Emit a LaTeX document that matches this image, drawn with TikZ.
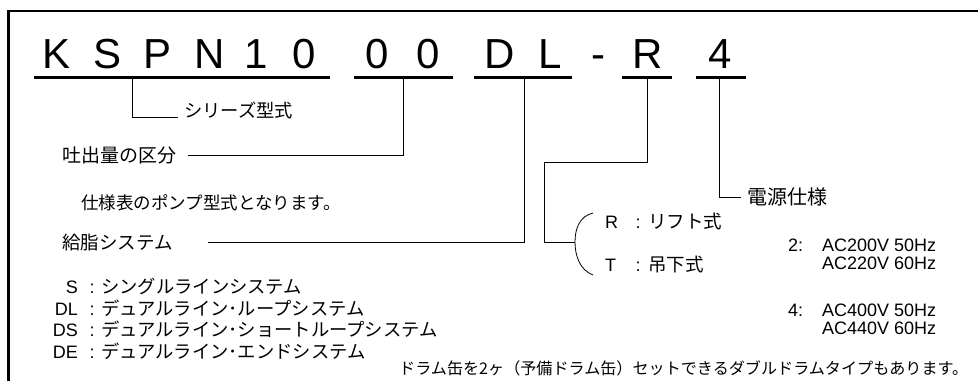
\documentclass[tikz,border=0pt]{standalone}
\usepackage{fontspec}
\setmainfont{Liberation Sans}
\newfontfamily\jp{Noto Sans CJK JP}
\newcommand\jfont[1]{\jp\fontsize{#1}{#1}\selectfont}
\newcommand\lfont[1]{\fontsize{#1}{#1}\selectfont}

\tikzset{
    frame/.style={line width=2.6pt},
    code/.style={font=\lfont{42}, anchor=base, inner sep=0pt},
    uline/.style={line width=3pt},
    lead/.style={line width=0.8pt},
    jlabel/.style={font=\jfont{18.5}, anchor=west, inner xsep=6pt, inner ysep=2pt},
    latin/.style={font=\lfont{18}, inner sep=1pt},
}

\begin{document}
\begin{tikzpicture}[x=1pt, y=-1pt]
    \useasboundingbox (0,0) rectangle (978,381);

    % FRAME (runs off the right and bottom)
    \draw[frame] (8.5,381) -- (8.5,11) -- (978,11);

    % MODEL CODE
    \foreach \ch/\xx [count=\i] in {K/57, S/108, P/158, N/210, 1/256, 0/304,
                                   0/377, 0/428, D/500, L/550, -/598, R/648, 4/720}
        \node[code] (c\i) at (\xx,68) {\ch};

    % Underlines
    \foreach \a/\b in {34/330, 354/453, 474/572, 622/672, 696/746}
        \draw[uline] (\a,77.5) -- (\b,77.5);

    % Tap points under the underlines
    \coordinate (tSer) at (132,79);
    \coordinate (tFlow) at (403,79);
    \coordinate (tSys) at (524,79);
    \coordinate (tMnt) at (647,79);
    \coordinate (tPwr) at (719,79);

    % LABELS
    \node[jlabel, font=\jfont{18.3}, anchor=base west] (lSer) at (178,117) {シリーズ型式};
    \node[jlabel, font=\jfont{19}] (lFlow) at (56,155) {吐出量の区分};
    \node[jlabel, font=\jfont{17.5}] (lNote) at (75,203) {仕様表のポンプ型式となります。};
    \node[jlabel] (lSys) at (56,242) {給脂システム};
    \node[jlabel, font=\jfont{20}] (lPwr) at (741,197) {電源仕様};

    % LEADERS
    \draw[lead] (tSer) |- (lSer.base west);
    \draw[lead] ([xshift=6pt]lFlow.east) -| (tFlow);
    \draw[lead] ([xshift=29pt]lSys.east) -| (tSys);
    \draw[lead] (tPwr) |- (lPwr.west);

    % MOUNTING TYPE
    \coordinate (bend) at (544,162);
    \coordinate (brace) at (575,242);
    \draw[lead] (tMnt) |- (bend) |- (brace);
    \draw[lead] (593,213) .. controls (580,216) and (575,228) .. (brace)
                .. controls (575,256) and (580,270) .. (593,275);
    \foreach \k/\t/\yy [count=\i] in {R/リフト式/228.5, T/吊下式/271.5} {
        \node[latin, anchor=base west] (mk\i) at (604,\yy) {\k};
        \node[latin, anchor=base] (mc\i) at (638,\yy) {:};
        \node[jlabel, anchor=base west] (mt\i) at (642,\yy) {\t};
    }

    % POWER SUPPLY
    \foreach \v/\la/\lb/\yy [count=\i] in {2/AC200V 50Hz/AC220V 60Hz/251.5,
                                          4/AC400V 50Hz/AC440V 60Hz/316.5} {
        \node[latin, anchor=base west] (pv\i) at (787,\yy) {\v:};
        \node[latin, anchor=base west] (pa\i) at (821,\yy) {\la};
        \node[latin, anchor=base west] (pb\i) at (821,\yy+18) {\lb};
    }

    % GREASE SYSTEM LIST
    \foreach \k/\t [count=\i] in {S/シングルラインシステム,
                                  DL/デュアルライン･ループシステム,
                                  DS/デュアルライン･ショートループシステム,
                                  DE/デュアルライン･エンドシステム} {
        \node[latin, anchor=base east] (sk\i) at (79,{293.5+21.7*(\i-1)}) {\k};
        \node[latin, anchor=base] (sc\i) at (92,{293.5+21.7*(\i-1)}) {:};
        \node[jlabel, font=\jfont{18.3}, anchor=base west] (st\i) at (95,{293.5+21.7*(\i-1)}) {\t};
    }

    % NOTE
    \node[jlabel, font=\jfont{16.1}, inner xsep=0pt] (lDrum) at (399,368)
        {ドラム缶を2ヶ（予備ドラム缶）セットできるダブルドラムタイプもあります。};
\end{tikzpicture}
\end{document}
